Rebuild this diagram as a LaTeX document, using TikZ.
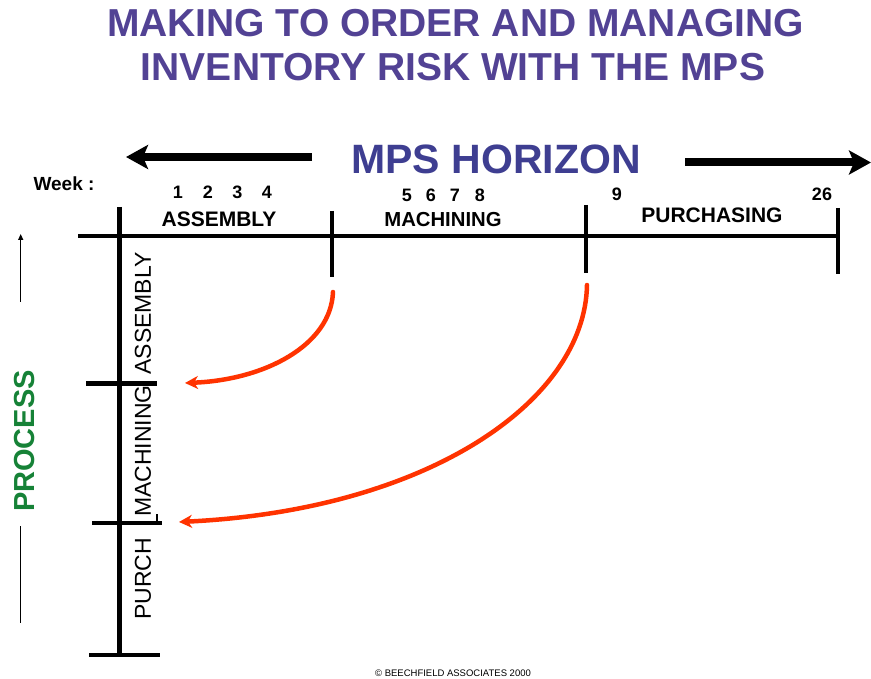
\documentclass[tikz,border=0pt]{standalone}
\usepackage{fontspec}
\setmainfont{Liberation Sans}
\usetikzlibrary{arrows.meta}
\definecolor{titleviolet}{RGB}{82,66,148}
\definecolor{horizonblue}{RGB}{62,62,145}
\definecolor{processgreen}{RGB}{22,130,55}
\definecolor{flowred}{RGB}{255,51,0}
\newcommand{\fs}[1]{\fontsize{#1}{#1}\selectfont}
\begin{document}
\begin{tikzpicture}[x=1pt,y=-1pt,
  axisline/.style={line width=4.6pt,line cap=butt},
  bigarrow/.style={line width=8pt,-{Stealth[length=22pt,width=24pt,inset=5pt]}},
  flowarrow/.style={flowred,line width=4.5pt,line cap=round,-{Stealth[length=13pt,width=13pt,inset=4pt]}},
  thinline/.style={line width=1.3pt},
  titletext/.style={text=titleviolet,font=\fs{39}\bfseries,inner sep=0pt},
  weeknum/.style={font=\fs{18}\bfseries,inner sep=0pt},
  phase/.style={font=\fs{21}\bfseries,inner sep=0pt},
  sidelabel/.style={font=\fs{23}, rotate=90, inner sep=0pt}]
\path[use as bounding box] (0,0) rectangle (871,679);

% title
\node[titletext] (t1) at (455.5,23.5) {MAKING TO ORDER AND MANAGING};
\node[titletext] (t2) at (453,67.5) {INVENTORY RISK WITH THE MPS};

% horizon banner with arrows both ways
\node[text=horizonblue,font=\fs{41}\bfseries,inner sep=0pt] (horizon) at (496,159) {MPS HORIZON};
\coordinate (la) at (312,157);
\coordinate (lt) at (126,157);
\coordinate (ra) at (685,162.5);
\coordinate (rt) at (871,162.5);
\draw[bigarrow] (la) -- (lt);
\draw[bigarrow] (ra) -- (rt);

% week numbers
\node[font=\fs{19}\bfseries,inner sep=0pt] (week) at (64,184) {Week :};
\node[weeknum] (w1) at (178,192.5) {1};
\node[weeknum] (w2) at (208,192.5) {2};
\node[weeknum] (w3) at (237.5,192.5) {3};
\node[weeknum] (w4) at (267,192.5) {4};
\node[weeknum] (w5) at (407,195) {5};
\node[weeknum] (w6) at (431,195) {6};
\node[weeknum] (w7) at (455,195) {7};
\node[weeknum] (w8) at (480,195) {8};
\node[weeknum] (w9) at (617,194) {9};
\node[weeknum] (w26) at (822,194) {26};

% phase names along the time axis
\node[phase] (pa) at (219,219) {ASSEMBLY};
\node[phase,font=\fs{20.3}\bfseries] (pm) at (443,219.5) {MACHINING};
\node[phase] (pp) at (712,215.5) {PURCHASING};

% time axis and its ticks
\draw[axisline] (78,236) -- (838,236);
\draw[axisline] (332,211) -- (332,277);
\draw[axisline] (586,205) -- (586,273);
\draw[axisline] (838,208) -- (838,274);

% process axis and its ticks
\draw[axisline] (119.5,207) -- (119.5,657);
\draw[axisline] (86,383.3) -- (157,383.3);
\draw[axisline] (92,523) -- (162,523);
\draw[axisline] (89,655) -- (160,655);
\draw[line width=1.6pt] (157,514) -- (157,524);

% process stages
\node[sidelabel] (sa) at (143,313.5) {ASSEMBLY};
\node[sidelabel] (sm) at (143,451) {MACHINING};
\node[sidelabel] (sp) at (143,579) {PURCH};

% process label with its direction marker
\node[text=processgreen,font=\fs{29}\bfseries,rotate=90,inner sep=0pt] (process) at (25,441) {PROCESS};
\coordinate (pu1) at (20.7,302);
\coordinate (pu2) at (20.7,234);
\coordinate (pd1) at (20.7,526);
\coordinate (pd2) at (20.7,623);
\draw[thinline,-{Triangle[length=6pt,width=5pt]}] (pu1) -- (pu2);
\draw[thinline] (pd1) -- (pd2);

% lead-time arrows from the time axis to the process stages
\coordinate (r1s) at (333,292);
\coordinate (r1e) at (185,383);
\coordinate (r2s) at (587,285);
\coordinate (r2e) at (179,522);
\draw[flowarrow] (r1s) .. controls (331,345) and (265,380) .. (r1e);
\draw[flowarrow] (r2s) .. controls (585,400) and (430,510) .. (r2e);

% footer
\node[font=\fs{9.5},inner sep=0pt] (copy) at (453,673) {© BEECHFIELD ASSOCIATES 2000};
\end{tikzpicture}
\end{document}
